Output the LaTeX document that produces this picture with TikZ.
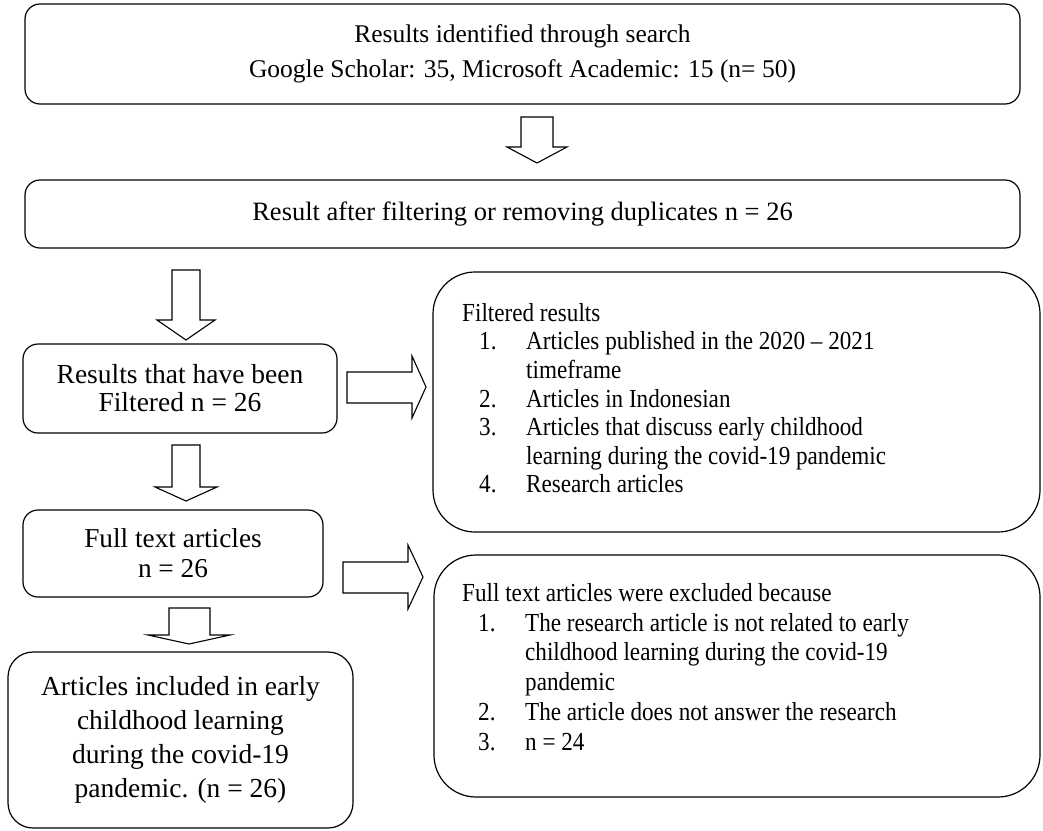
\documentclass[tikz,border=0pt]{standalone}
\usepackage{fontspec}
\setmainfont{Liberation Serif}
\newfontfamily\condserif[FakeStretch=0.89,Ligatures=TeX]{Liberation Serif}
\begin{document}
\begin{tikzpicture}[x=1pt,y=-1pt,
  box/.style={draw, line width=1.2pt, rounded corners=15pt, inner sep=0pt, align=center},
  bigbox/.style={box, rounded corners=42pt},
  txt/.style={inner sep=0pt, align=left, anchor=north west},
  barrow/.style={draw, line width=1.1pt, fill=white, line join=miter}]
\useasboundingbox (0,0) rectangle (1043,830);

\node[box, font=\fontsize{25.5}{34.5}\selectfont, minimum width=995pt, minimum height=100pt] (search) at (522.5,54)
  {Results identified through search\\Google Scholar: 35, Microsoft Academic: 15 (n= 50)};
\node[box, font=\fontsize{26.5}{34}\selectfont, minimum width=995pt, minimum height=68pt] (dup) at (522.5,214)
  {Result after filtering or removing duplicates n = 26};
\node[box, font=\fontsize{27.5}{28}\selectfont, minimum width=314pt, minimum height=89pt] (filtered) at (180,388.5)
  {Results that have been\\Filtered n = 26};
\node[bigbox, minimum width=607pt, minimum height=260pt] (crit) at (736.5,402) {};
\node[txt, font=\condserif\fontsize{26}{28.6}\selectfont] (crittext) at (462,303)
  {Filtered results\\
   \hspace*{17pt}\makebox[47pt][l]{1.}Articles published in the 2020 – 2021\\
   \hspace*{64pt}timeframe\\
   \hspace*{17pt}\makebox[47pt][l]{2.}Articles in Indonesian\\
   \hspace*{17pt}\makebox[47pt][l]{3.}Articles that discuss early childhood\\
   \hspace*{64pt}learning during the covid-19 pandemic\\
   \hspace*{17pt}\makebox[47pt][l]{4.}Research articles};
\node[box, font=\fontsize{27.3}{30}\selectfont, minimum width=300pt, minimum height=87pt] (full) at (173,553.5)
  {Full text articles\\n = 26};
\node[box, font=\fontsize{27.5}{34}\selectfont, rounded corners=25pt, minimum width=345pt, minimum height=176pt] (incl) at (180.5,740)
  {Articles included in early\\childhood learning\\during the covid-19\\pandemic. (n = 26)};
\node[bigbox, minimum width=606pt, minimum height=242pt] (excl) at (737,676) {};
\node[txt, font=\condserif\fontsize{26}{29.8}\selectfont] (excltext) at (462,583)
  {Full text articles were excluded because\\
   \hspace*{16pt}\makebox[47pt][l]{1.}The research article is not related to early\\
   \hspace*{63pt}childhood learning during the covid-19\\
   \hspace*{63pt}pandemic\\
   \hspace*{16pt}\makebox[47pt][l]{2.}The article does not answer the research\\
   \hspace*{16pt}\makebox[47pt][l]{3.}n = 24};

% block arrows
\draw[barrow] (521,117) -- (553,117) -- (553,147) -- (567,147) -- (537,163) -- (507,147) -- (521,147) -- cycle;
\draw[barrow] (172,270) -- (200,270) -- (200,320) -- (215,320) -- (186,340) -- (157,320) -- (172,320) -- cycle;
\draw[barrow] (347,372) -- (412,372) -- (412,356) -- (426,387) -- (412,418) -- (412,403) -- (347,403) -- cycle;
\draw[barrow] (172,445) -- (200,445) -- (200,487) -- (217,487) -- (186,501) -- (155,487) -- (172,487) -- cycle;
\draw[barrow] (343,562) -- (408,562) -- (408,545) -- (423,577) -- (408,609) -- (408,593) -- (343,593) -- cycle;
\draw[barrow] (169,608) -- (210,608) -- (210,635) -- (230,635) -- (189,644) -- (148,635) -- (169,635) -- cycle;
\end{tikzpicture}
\end{document}
